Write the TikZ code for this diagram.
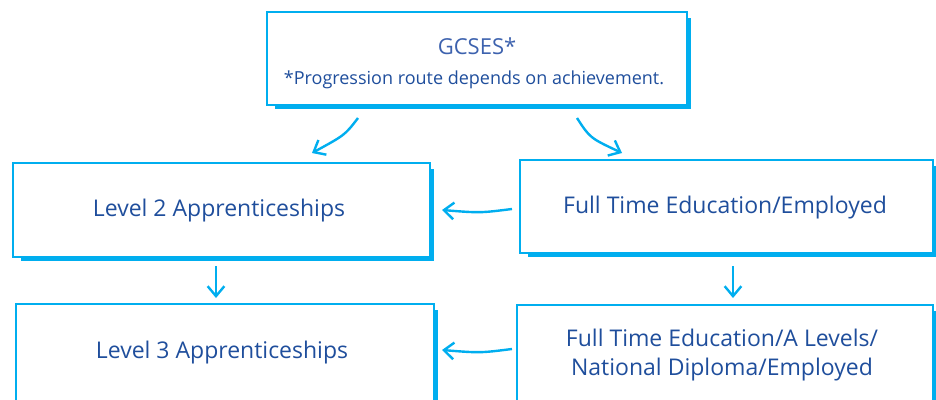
\documentclass[tikz,border=0pt]{standalone}
\usepackage{fontspec}
\setmainfont{Open Sans}
\usetikzlibrary{arrows.meta}
\definecolor{cyanline}{HTML}{00AEEF}
\definecolor{textblue}{HTML}{1F4E9C}
\definecolor{lightblue}{HTML}{3D62AE}
\begin{document}
\begin{tikzpicture}[x=1pt,y=-1pt,
  boxline/.style={draw=cyanline,line width=2.4pt},
  shadowline/.style={draw=cyanline,line width=3pt},
  lbl/.style={text=textblue,font=\fontsize{23}{29}\selectfont,align=center},
  arr/.style={draw=cyanline,line width=2.4pt,-{Straight Barb[angle=80:13pt,line width=2.4pt]}}]
\useasboundingbox (0,0) rectangle (936,399);
% boxes
\newcommand{\sketchbox}[5]{%
  \draw[boxline] (#1,#2) -- (#3,#2) -- (#3,#4) -- (#1,#4) -- cycle;
  \draw[shadowline] (#3+2,#2+6) -- (#3+2,#4+2) -- (#1+8,#4+2);
  \node (#5) at ({(#1+#3)/2},{(#2+#4)/2}) {};
}
\sketchbox{267}{12}{687}{105}{top}
\sketchbox{13}{163}{430}{257}{lvltwo}
\sketchbox{520}{160}{933}{253}{fte}
\sketchbox{16}{304}{434}{405}{lvlthree}
\sketchbox{517}{305}{933}{405}{ftea}
% texts
\node[text=lightblue,font=\fontsize{22}{26}\selectfont] (gcse) at (477,46) {GCSES*};
\node[text=textblue,font=\fontsize{18}{22}\selectfont] (note) at (474,80) {*Progression route depends on achievement.};
\node[lbl] (t2) at (219,211) {Level 2 Apprenticeships};
\node[lbl] (tf) at (725,208) {Full Time Education/Employed};
\node[lbl] (t3) at (222,353) {Level 3 Apprenticeships};
\node[lbl] (tfa) at (722,355) {Full Time Education/A Levels/\\National Diploma/Employed};
% connector endpoints
\coordinate (a1s) at (358,118); \coordinate (a1e) at (312,153);
\coordinate (a2s) at (577,118); \coordinate (a2e) at (622,153);
\coordinate (h1s) at (512,209); \coordinate (h1e) at (442,210);
\coordinate (h2s) at (512,349); \coordinate (h2e) at (442,350);
\coordinate (v1s) at (216,266); \coordinate (v1e) at (216,298);
\coordinate (v2s) at (733,266); \coordinate (v2e) at (733,298);
\draw[arr] (a1s) .. controls (345,135) .. (a1e);
\draw[arr] (a2s) .. controls (590,138) .. (a2e);
\draw[arr] (h1s) .. controls (480,213) .. (h1e);
\draw[arr] (h2s) .. controls (480,353) .. (h2e);
\draw[arr] (v1s) -- (v1e);
\draw[arr] (v2s) -- (v2e);
\end{tikzpicture}
\end{document}
